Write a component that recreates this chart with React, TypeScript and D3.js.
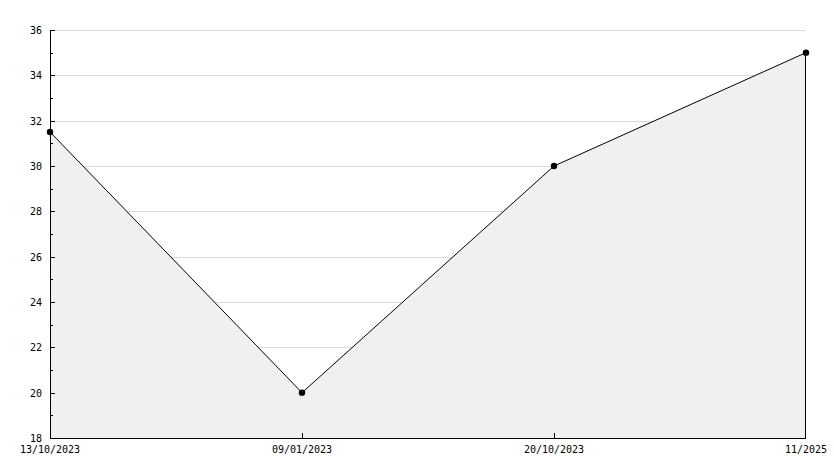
import React, { useEffect, useRef } from 'react';
import * as d3 from 'd3';

const categories = ['13/10/2023', '09/01/2023', '20/10/2023', '11/2025'];
const values = [31.5, 20, 30, 35];
const yTicks = [18, 20, 22, 24, 26, 28, 30, 32, 34, 36];
const yMinorTicks = [19, 21, 23, 25, 27, 29, 31, 33, 35];

export default function App() {
  const ref = useRef<SVGSVGElement>(null);

  useEffect(() => {
    const width = 834;
    const height = 468;
    const margin = { top: 30, left: 50, bottom: 30, right: 28 };
    const iwidth = width - margin.left - margin.right;
    const iheight = height - margin.top - margin.bottom;

    const svg = d3.select(ref.current);
    svg.selectAll('*').remove();
    svg.attr('width', width).attr('height', height);

    const g = svg
      .append('g')
      .attr('transform', `translate(${margin.left},${margin.top})`);

    const x = d3
      .scalePoint<string>()
      .domain(categories)
      .range([0, iwidth]);
    const y = d3.scaleLinear().domain([18, 36]).range([iheight, 0]);

    const font = '"DejaVu Sans Mono", monospace';

    // grid
    g.selectAll('line.grid')
      .data(yTicks.filter((d) => d !== 18))
      .enter()
      .append('line')
      .attr('x1', 0)
      .attr('x2', iwidth)
      .attr('y1', (d) => Math.round(y(d)) + 0.5)
      .attr('y2', (d) => Math.round(y(d)) + 0.5)
      .attr('stroke', '#dcdcdc');

    const pts = categories.map((c, i) => [x(c) as number, y(values[i])] as [number, number]);

    // area
    const area = d3
      .area<[number, number]>()
      .x((d) => d[0])
      .y0(iheight)
      .y1((d) => d[1]);
    g.append('path').datum(pts).attr('d', area).attr('fill', '#f0f0f0');

    // right edge
    const last = pts[pts.length - 1];
    g.append('line')
      .attr('x1', last[0] - 0.5)
      .attr('x2', last[0] - 0.5)
      .attr('y1', last[1])
      .attr('y2', iheight)
      .attr('stroke', '#000');

    // line
    g.append('path')
      .datum(pts)
      .attr('d', d3.line())
      .attr('fill', 'none')
      .attr('stroke', '#000')
      .attr('stroke-width', 1);

    // markers
    g.selectAll('circle.pt')
      .data(pts)
      .enter()
      .append('circle')
      .attr('cx', (d) => d[0])
      .attr('cy', (d) => d[1])
      .attr('r', 3.2)
      .attr('fill', '#000');

    // y axis
    g.append('line')
      .attr('x1', 0.5)
      .attr('x2', 0.5)
      .attr('y1', 0)
      .attr('y2', iheight)
      .attr('stroke', '#000');
    g.selectAll('line.ymaj')
      .data(yTicks)
      .enter()
      .append('line')
      .attr('x1', 0)
      .attr('x2', 5)
      .attr('y1', (d) => Math.round(y(d)) + 0.5)
      .attr('y2', (d) => Math.round(y(d)) + 0.5)
      .attr('stroke', '#000');
    g.selectAll('line.ymin')
      .data(yMinorTicks)
      .enter()
      .append('line')
      .attr('x1', 0)
      .attr('x2', 3)
      .attr('y1', (d) => Math.round(y(d)) + 0.5)
      .attr('y2', (d) => Math.round(y(d)) + 0.5)
      .attr('stroke', '#000');
    g.selectAll('text.ylab')
      .data(yTicks)
      .enter()
      .append('text')
      .attr('x', -8)
      .attr('y', (d) => y(d) + 4)
      .attr('text-anchor', 'end')
      .attr('font-family', font)
      .attr('font-size', 10)
      .attr('fill', '#000')
      .text((d) => d);

    // x axis
    g.append('line')
      .attr('x1', 0)
      .attr('x2', iwidth)
      .attr('y1', iheight + 0.5)
      .attr('y2', iheight + 0.5)
      .attr('stroke', '#000');
    g.selectAll('line.xt')
      .data(categories.slice(1, -1))
      .enter()
      .append('line')
      .attr('x1', (d) => Math.round(x(d) as number) + 0.5)
      .attr('x2', (d) => Math.round(x(d) as number) + 0.5)
      .attr('y1', iheight)
      .attr('y2', iheight - 5)
      .attr('stroke', '#000');
    g.selectAll('text.xlab')
      .data(categories)
      .enter()
      .append('text')
      .attr('x', (d) => x(d) as number)
      .attr('y', iheight + 15)
      .attr('text-anchor', 'middle')
      .attr('font-family', font)
      .attr('font-size', 10)
      .attr('fill', '#000')
      .text((d) => d);
  }, []);

  return (
    <div style={{ position: 'absolute', left: 0, top: 0 }}>
      <svg ref={ref}></svg>
    </div>
  );
}
